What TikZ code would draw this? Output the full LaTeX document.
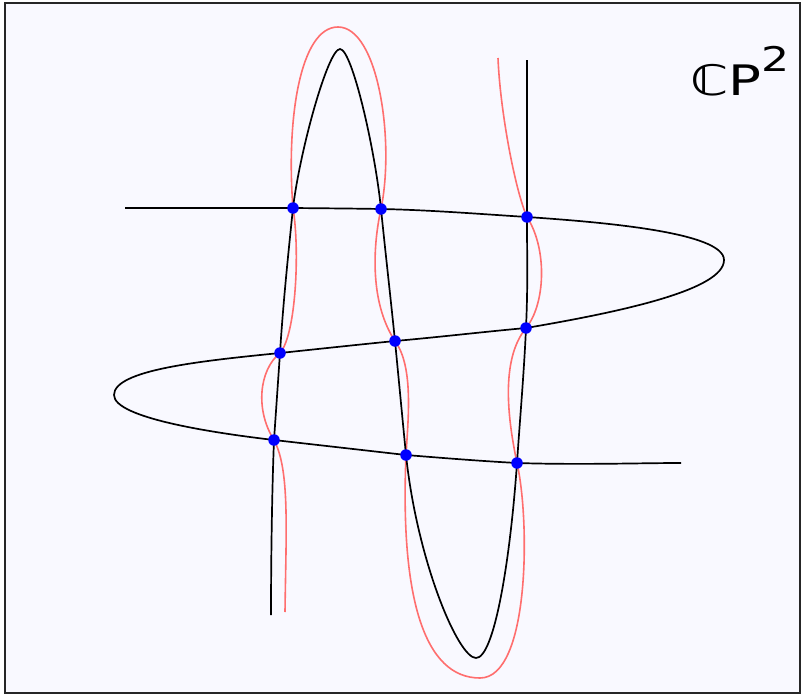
\documentclass[tikz,border=0pt]{standalone}
\usepackage{fontspec}
\newfontfamily\dvs{DejaVu Sans}
\definecolor{bgl}{RGB}{249,249,255}
\definecolor{redc}{RGB}{255,110,110}
\tikzset{
  blk/.style={black, line width=1.7pt},
  rd/.style={redc, line width=1.6pt},
  dot/.style={circle, fill=blue, inner sep=0pt, minimum size=11.5pt}
}
\begin{document}
\begin{tikzpicture}[x=1pt,y=-1pt]
\useasboundingbox (0,0) rectangle (801,696);
\fill[white] (0,0) rectangle (801,696);
\fill[bgl] (5,3) rectangle (800,693);
\draw[line width=1.6pt, black!85] (5,3) rectangle (800,693);
% intersection points
\coordinate (p1) at (293,208);
\coordinate (p2) at (381,209);
\coordinate (p3) at (527,217);
\coordinate (p4) at (280,353);
\coordinate (p5) at (395,341);
\coordinate (p6) at (526,328);
\coordinate (p7) at (274,440);
\coordinate (p8) at (406,455);
\coordinate (p9) at (517,463);
% red perturbed curve
\draw[rd] (285,612) .. controls (286,530) and (290,470) .. (p7)
  .. controls (255,410) and (259,370) .. (p4)
  .. controls (296,335) and (300,250) .. (p1)
  .. controls (286,120) and (300,27) .. (338,27)
  .. controls (378,27) and (395,140) .. (p2)
  .. controls (374,240) and (368,300) .. (p5)
  .. controls (414,367) and (408,420) .. (p8)
  .. controls (400,600) and (425,678) .. (480,678)
  .. controls (530,678) and (530,520) .. (p9)
  .. controls (508,420) and (500,360) .. (p6)
  .. controls (545,305) and (548,250) .. (p3)
  .. controls (515,190) and (500,110) .. (498,58);
% black vertical curve
\draw[blk] (271,615) .. controls (271,560) and (272,490) .. (p7)
  .. controls (276,411) and (278,382) .. (p4)
  .. controls (283,305) and (288,256) .. (p1)
  .. controls (300,150) and (328,49) .. (340,49)
  .. controls (352,49) and (375,149) .. (p2)
  .. controls (385.5,253) and (390.5,297) .. (p5)
  .. controls (398.7,379) and (402.3,417) .. (p8)
  .. controls (417,560) and (458,658) .. (476,658)
  .. controls (494,658) and (510,563) .. (p9)
  .. controls (520,418) and (524,373) .. (p6)
  .. controls (528,283) and (527,262) .. (p3)
  -- (527,60);
% black horizontal curve
\draw[blk] (125,208) .. controls (180,208) and (240,208) .. (p1)
  .. controls (323,208.3) and (351,208.5) .. (p2)
  .. controls (430,210) and (480,214) .. (p3)
  .. controls (600,222) and (724,232) .. (724,260)
  .. controls (724,290) and (620,312) .. (p6)
  .. controls (482,332) and (440,337) .. (p5)
  .. controls (355,345) and (318,349) .. (p4)
  .. controls (200,361) and (114,370) .. (114,395)
  .. controls (114,418) and (214,433) .. (p7)
  .. controls (318,445) and (362,450) .. (p8)
  .. controls (443,458) and (480,461) .. (p9)
  .. controls (580,465) and (640,463) .. (681,463);
% dots
\foreach \i in {1,...,9} \node[dot] (d\i) at (p\i) {};
% label
\node[anchor=base west, inner sep=0pt] (lbl) at (690,95) {\scalebox{1.3}[1]{\dvs\fontsize{42}{42}\selectfont ℂP\raisebox{0.55em}{\fontsize{34}{34}\selectfont 2}}};
\end{tikzpicture}
\end{document}
